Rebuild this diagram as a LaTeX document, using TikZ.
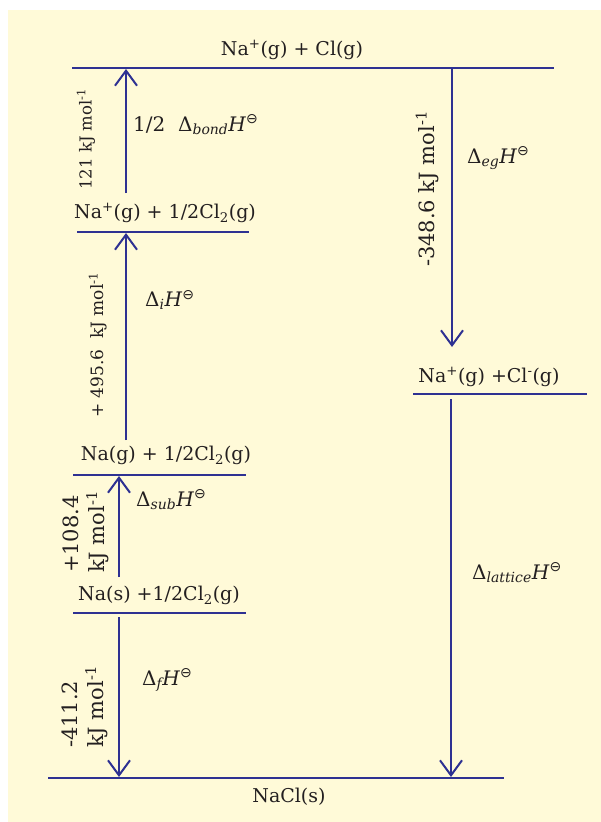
\documentclass[tikz,border=0pt]{standalone}
\usepackage{fontspec}
\setmainfont{DejaVu Serif}
\newfontfamily\symfont{DejaVu Sans}
\usetikzlibrary{arrows.meta}
\definecolor{cream}{RGB}{255,250,216}
\definecolor{lineblue}{RGB}{46,49,146}
\definecolor{ink}{RGB}{35,31,32}
\newcommand{\dH}[1]{Δ\textsubscript{\itshape #1}\textit{H}\textsuperscript{\symfont ⊖}}
\begin{document}
\begin{tikzpicture}[x=1pt,y=-1pt,
  level/.style={draw=lineblue,line width=2pt},
  arr/.style={draw=lineblue,line width=2pt,-{Straight Barb[length=15pt,width=22pt,line width=2pt]}},
  lab/.style={text=ink,font=\fontsize{19}{22}\selectfont,inner sep=0pt},
  mlab/.style={text=ink,font=\fontsize{20}{22}\selectfont,inner sep=0pt,anchor=west},
  vlab/.style={text=ink,inner sep=0pt,rotate=90,align=left}]
\useasboundingbox (0,0) rectangle (601,822);
\fill[cream] (8,10) rectangle (610,830);
% levels
\coordinate (L1a) at (72,68);  \coordinate (L1b) at (554,68);
\coordinate (L2a) at (77,232); \coordinate (L2b) at (249,232);
\coordinate (L3a) at (73,475); \coordinate (L3b) at (246,475);
\coordinate (L4a) at (73,613); \coordinate (L4b) at (246,613);
\coordinate (L5a) at (413,394); \coordinate (L5b) at (587,394);
\coordinate (L6a) at (48,778); \coordinate (L6b) at (504,778);
\foreach \l in {1,...,6} {\draw[level] (L\l a) -- (L\l b);}
% level labels
\node[lab] (n1) at (292,50) {Na\textsuperscript{+}(g) + Cl(g)};
\node[lab] (n2) at (165,213) {Na\textsuperscript{+}(g) + 1/2Cl\textsubscript{2}(g)};
\node[lab] (n3) at (166,455) {Na(g) + 1/2Cl\textsubscript{2}(g)};
\node[lab] (n4) at (159,595) {Na(s) +1/2Cl\textsubscript{2}(g)};
\node[lab] (n5) at (489,377) {Na\textsuperscript{+}(g) +Cl\textsuperscript{-}(g)};
\node[lab] (n6) at (289,797) {NaCl(s)};
% arrow end points
\coordinate (a1s) at (126,193); \coordinate (a1e) at (126,69);
\coordinate (a2s) at (126,440); \coordinate (a2e) at (126,233);
\coordinate (a3s) at (119,577); \coordinate (a3e) at (119,476);
\coordinate (a4s) at (119,617); \coordinate (a4e) at (119,777);
\coordinate (a5s) at (452,68);  \coordinate (a5e) at (452,347);
\coordinate (a6s) at (451,399); \coordinate (a6e) at (451,777);
\foreach \a in {1,...,6} {\draw[arr] (a\a s) -- (a\a e);}
% enthalpy labels
\node[mlab] (h1) at (133,125) {1/2\ \ \dH{bond}};
\node[mlab] (h2) at (145,300) {\dH{i}};
\node[mlab] (h3) at (136,500) {\dH{sub}};
\node[mlab] (h4) at (142,680) {\dH{f}};
\node[mlab] (h5) at (467,158) {\dH{eg}};
\node[mlab] (h6) at (472,573) {\dH{lattice}};
% values
\node[vlab,font=\fontsize{16.5}{19}\selectfont] (v1) at (86,139) {121 kJ mol\textsuperscript{-1}};
\node[vlab,font=\fontsize{17}{20}\selectfont] (v2) at (98,345) {+ 495.6\ \ kJ mol\textsuperscript{-1}};
\node[vlab,font=\fontsize{21}{26}\selectfont] (v3) at (86,532) {+108.4\\kJ mol\textsuperscript{-1}};
\node[vlab,font=\fontsize{21}{26}\selectfont] (v4) at (85,707) {-411.2\\kJ mol\textsuperscript{-1}};
\node[vlab,font=\fontsize{21}{24}\selectfont] (v5) at (427,189) {-348.6 kJ mol\textsuperscript{-1}};
\end{tikzpicture}
\end{document}
